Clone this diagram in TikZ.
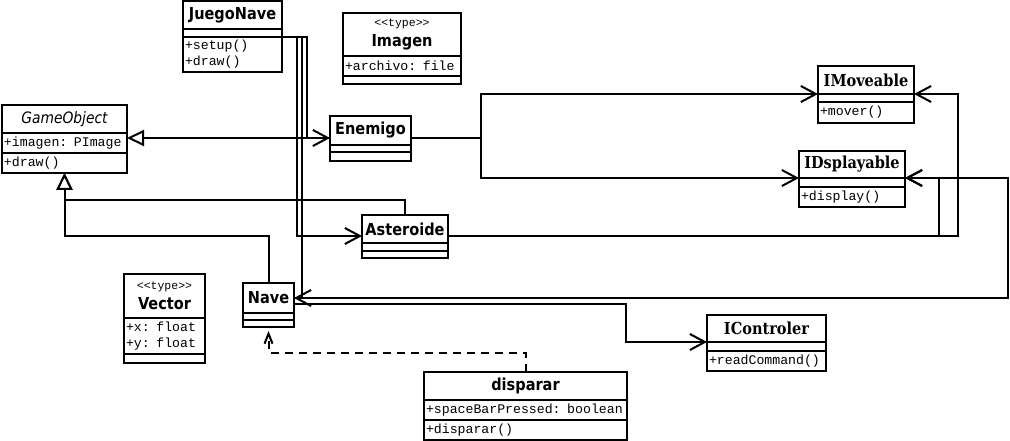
\documentclass[tikz,border=0pt]{standalone}
\usepackage{fontspec}
\newfontfamily\headsans{DejaVu Sans}[FakeStretch=0.88]
\newfontfamily\headserif{DejaVu Serif}[FakeStretch=0.88]
\newfontfamily\monotext{Liberation Mono}
\newcommand{\umlstereo}[1]{{\monotext\mdseries\fontsize{11.5}{13}\selectfont <\kern0pt<#1>\kern0pt>}}
\usetikzlibrary{positioning,arrows.meta}

\begin{document}
\begin{tikzpicture}[x=1pt, y=-1pt]
\tikzset{classhead/.style={draw, line width=2pt, inner xsep=2pt, inner ysep=0pt, outer sep=0pt, anchor=north west, align=center, font=\headsans\bfseries\fontsize{16.5}{20}\selectfont},
  iface/.style={classhead, font=\headserif\bfseries\fontsize{16.5}{20}\selectfont},
  abstract/.style={classhead, font=\headsans\itshape\fontsize{15.7}{20}\selectfont},
  classpart/.style={draw, line width=2pt, inner xsep=2pt, inner ysep=0pt, outer sep=0pt, align=left, font=\monotext\fontsize{13.2}{16}\selectfont},
  emptypart/.style={draw, line width=2pt, inner sep=0pt, outer sep=0pt},
  assoc/.style={line width=2pt, -{Straight Barb[length=15pt, width=16pt]}},
  inherit/.style={line width=2pt, -{Triangle[length=17pt, width=16pt, fill=white]}},
  depend/.style={line width=2pt, dash pattern=on 8pt off 6pt, shorten >=4pt, -{Straight Barb[length=10pt, width=8pt]}}}
    \path[use as bounding box, fill=white] (0,0) rectangle (1010,441);

    \node[classhead, text width=95pt, minimum height=28pt] (juego) at (183,1) {JuegoNave};
    \node[emptypart, minimum width=99pt, minimum height=8pt, below=0pt of juego] (juego-a) {};
    \node[classpart, text width=95pt, minimum height=35pt, below=0pt of juego-a] (juego-m) {+setup()\\+draw()};

    \node[classhead, text width=114pt, minimum height=43pt] (imagen) at (343,13) {\umlstereo{type}\\Imagen};
    \node[classpart, text width=114pt, minimum height=20pt, below=0pt of imagen] (imagen-a) {+archivo: file};
    \node[emptypart, minimum width=118pt, minimum height=8pt, below=0pt of imagen-a] (imagen-m) {};

    \node[abstract, text width=121pt, minimum height=28pt] (gameobj) at (2,105) {GameObject};
    \node[classpart, text width=121pt, minimum height=20pt, below=0pt of gameobj] (gameobj-a) {+imagen: PImage};
    \node[classpart, text width=121pt, minimum height=20pt, below=0pt of gameobj-a] (gameobj-m) {+draw()};

    \node[classhead, text width=77pt, minimum height=29pt] (enemigo) at (330,116) {Enemigo};
    \node[emptypart, minimum width=81pt, minimum height=7pt, below=0pt of enemigo] (enemigo-a) {};
    \node[emptypart, minimum width=81pt, minimum height=9pt, below=0pt of enemigo-a] (enemigo-m) {};

    \node[classhead, text width=82pt, minimum height=28pt] (asteroide) at (362,215) {Asteroide};
    \node[emptypart, minimum width=86pt, minimum height=8pt, below=0pt of asteroide] (asteroide-a) {};
    \node[emptypart, minimum width=86pt, minimum height=7pt, below=0pt of asteroide-a] (asteroide-m) {};

    \node[classhead, text width=47pt, minimum height=30pt] (nave) at (243,283) {Nave};
    \node[emptypart, minimum width=51pt, minimum height=7pt, below=0pt of nave] (nave-a) {};
    \node[emptypart, minimum width=51pt, minimum height=7pt, below=0pt of nave-a] (nave-m) {};

    \node[classhead, text width=77pt, minimum height=44pt] (vector) at (124,274) {\umlstereo{type}\\Vector};
    \node[classpart, text width=77pt, minimum height=36pt, below=0pt of vector] (vector-a) {+x: float\\+y: float};
    \node[emptypart, minimum width=81pt, minimum height=9pt, below=0pt of vector-a] (vector-m) {};

    \node[iface, text width=92pt, minimum height=28pt] (imoveable) at (818,66) {IMoveable};
    \node[emptypart, minimum width=96pt, minimum height=8pt, below=0pt of imoveable] (imoveable-a) {};
    \node[classpart, text width=92pt, minimum height=21pt, below=0pt of imoveable-a] (imoveable-m) {+mover()};

    \node[iface, text width=102pt, minimum height=27pt] (idisplay) at (799,151) {IDsplayable};
    \node[emptypart, minimum width=106pt, minimum height=9pt, below=0pt of idisplay] (idisplay-a) {};
    \node[classpart, text width=102pt, minimum height=20pt, below=0pt of idisplay-a] (idisplay-m) {+display()};

    \node[iface, text width=115pt, minimum height=27pt] (icontrol) at (707,315) {IControler};
    \node[emptypart, minimum width=119pt, minimum height=9pt, below=0pt of icontrol] (icontrol-a) {};
    \node[classpart, text width=115pt, minimum height=20pt, below=0pt of icontrol-a] (icontrol-m) {+readCommand()};

    \node[classhead, text width=199pt, minimum height=28pt] (disparar) at (424,372) {disparar};
    \node[classpart, text width=199pt, minimum height=20pt, below=0pt of disparar] (disparar-a) {+spaceBarPressed: boolean};
    \node[classpart, text width=199pt, minimum height=20pt, below=0pt of disparar-a] (disparar-m) {+disparar()};

    \coordinate (e-l) at ([yshift=-7.5pt]enemigo.west);
    \coordinate (e-r) at ([yshift=-7.5pt]enemigo.east);
    \coordinate (a-l) at ([yshift=-7pt]asteroide.west);
    \coordinate (a-r) at ([yshift=-7pt]asteroide.east);

    \draw[inherit] (e-l) -- (e-l -| gameobj.east);
    \draw[inherit] (asteroide.north) -- ++(0,-15) -| (gameobj-m.south);
    \draw[inherit] (nave.north) -- ++(0,-47) -| (gameobj-m.south);

    \draw[assoc] (juego-a.south east) -- ++(25,0) |- (e-l);
    \draw[assoc] (juego-a.south east) -- ++(15,0) |- (a-l);
    \draw[assoc] (juego-a.south east) -- ++(20,0) |- (nave.east);

    \draw[assoc] (e-r) -- ++(70,0) |- (imoveable.south west);
    \draw[assoc] (e-r) -- ++(70,0) |- (idisplay.south west);
    \draw[assoc] (a-r) -- ++(510,0) |- (imoveable.south east);
    \draw[assoc] (a-r) -- ++(491,0) |- (idisplay.south east);
    \draw[assoc] (nave.east) -- ++(714,0) |- (idisplay.south east);
    \draw[assoc] ([yshift=-6pt]nave.east) -- ++(332,0) |- (icontrol.south west);

    \draw[depend] (disparar.north) -- ++(0,-19) -| (nave-m.south);
\end{tikzpicture}
\end{document}
